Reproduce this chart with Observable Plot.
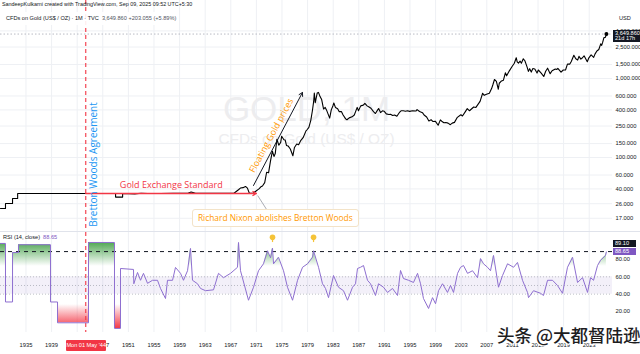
<!DOCTYPE html>
<html><head><meta charset="utf-8">
<script src="https://cdn.jsdelivr.net/npm/d3@7"></script>
<script src="https://cdn.jsdelivr.net/npm/@observablehq/plot@0.6"></script>
<style>
html,body{margin:0;padding:0;background:#fff;}
#root{position:relative;width:640px;height:354px;overflow:hidden;font-family:'Liberation Sans',Arial,sans-serif;color:#131722;}
#root svg{position:absolute;left:0;}
.abs{position:absolute;white-space:nowrap;}
</style></head><body><div id="root"></div>
<script>
// ---------- data ----------
const priceYears = [1931.02,1931.8,1931.8,1932.9,1932.9,1933.7,1933.7,1949.0,1949.0,1950.1,1950.1,1952.0,1953.0,1954.0,1956.0,1958.0,1960.3,1960.8,1961.5,1964.0,1967.5,1968.2,1968.5,1968.9,1969.3,1969.6,1969.9,1970.5,1970.9,1971.4,1971.7,1971.95,1972.3,1972.6,1972.9,1973.2,1973.5,1973.75,1973.95,1974.2,1974.5,1974.8,1974.95,1975.3,1975.5,1975.7,1975.95,1976.3,1976.7,1976.95,1977.3,1977.6,1977.95,1978.3,1978.75,1978.95,1979.2,1979.5,1979.75,1979.95,1980.05,1980.2,1980.5,1980.7,1980.95,1981.2,1981.5,1981.75,1981.95,1982.45,1982.7,1982.95,1983.1,1983.35,1983.7,1983.95,1984.3,1984.55,1984.95,1985.15,1985.5,1985.95,1986.3,1986.75,1986.95,1987.3,1987.7,1987.95,1988.3,1988.6,1988.9,1989.3,1989.6,1989.95,1990.1,1990.4,1990.7,1990.95,1991.3,1991.7,1991.95,1992.3,1992.6,1992.95,1993.4,1993.6,1993.95,1994.3,1994.6,1994.95,1995.4,1995.95,1996.1,1996.5,1996.95,1997.2,1997.6,1997.95,1998.3,1998.6,1998.95,1999.4,1999.75,1999.95,2000.3,2000.6,2000.95,2001.3,2001.6,2001.95,2002.4,2002.95,2003.2,2003.6,2003.95,2004.3,2004.95,2005.3,2005.95,2006.35,2006.6,2006.95,2007.4,2007.75,2007.95,2008.2,2008.5,2008.8,2008.95,2009.3,2009.6,2009.9,2010.1,2010.5,2010.95,2011.3,2011.6,2011.75,2011.95,2012.2,2012.4,2012.7,2012.95,2013.3,2013.5,2013.7,2013.95,2014.2,2014.5,2014.85,2015.05,2015.5,2015.9,2016.2,2016.5,2016.9,2017.2,2017.7,2017.95,2018.1,2018.6,2018.95,2019.3,2019.6,2019.95,2020.2,2020.6,2020.9,2021.2,2021.4,2021.7,2021.95,2022.2,2022.7,2022.95,2023.3,2023.7,2023.9,2024.2,2024.5,2024.8,2024.95,2025.1,2025.3,2025.5,2025.6,2025.69];
const priceValues = [22.6,22.6,26.2,26.2,30.3,30.3,35,35,31.5,31.5,35,34.6,35.3,35.0,35.0,35.1,35.2,36.5,35.3,35.1,35.2,39,41,41.5,43,41,35.2,35.5,37.4,40,42.5,43.6,48,65,64,90,120,103,112,170,143,155,186,168,166,142,140,128,105,134,148,145,165,178,217,226,240,295,390,512,653,494,653,666,590,540,410,430,400,315,400,448,490,430,415,380,380,345,308,300,317,327,345,430,390,450,460,484,450,435,420,380,360,400,416,370,390,385,356,350,353,340,345,333,376,390,390,385,390,383,390,387,404,382,369,345,325,290,300,285,288,256,299,288,275,277,272,260,272,278,322,347,335,375,415,390,435,430,513,650,612,632,650,745,833,970,920,730,870,930,950,1180,1080,1240,1420,1560,1830,1620,1565,1660,1560,1775,1675,1390,1230,1330,1205,1335,1320,1170,1280,1170,1060,1235,1350,1150,1250,1320,1300,1345,1200,1280,1280,1520,1517,1640,1970,1775,1710,1905,1760,1830,1935,1630,1825,1990,1850,2035,2230,2330,2740,2625,2860,3290,3300,3450,3649.86];

const rsiYears = [1931.02,1931.8,1931.8,1932.9,1932.9,1933.83,1933.83,1938.83,1938.83,1939.93,1939.93,1944.77,1944.77,1948.83,1948.83,1949.77,1949.77,1951.8,1951.85,1952.43,1952.9,1953.36,1953.99,1954.77,1955.55,1956.02,1956.8,1957.11,1957.9,1958.36,1959.15,1959.61,1960.24,1960.71,1961.02,1961.8,1962.27,1963.05,1964.3,1965.08,1965.86,1966.96,1968.05,1968.21,1968.52,1969.77,1970.55,1971.33,1972.11,1972.74,1973.21,1973.52,1973.68,1974.46,1975.24,1975.86,1976.65,1977.43,1978.21,1978.99,1979.77,1979.93,1980.71,1981.33,1981.8,1982.27,1983.05,1983.83,1984.61,1985.24,1986.02,1986.49,1986.8,1987.27,1987.74,1988.36,1988.83,1989.61,1990.08,1990.86,1991.49,1992.27,1993.05,1993.52,1993.99,1994.77,1995.55,1996.18,1996.65,1997.11,1997.9,1998.52,1998.99,1999.46,2000.08,2000.86,2001.33,2001.8,2002.43,2002.9,2003.36,2003.99,2004.77,2005.55,2006.02,2006.49,2007.11,2007.58,2008.05,2008.83,2009.46,2010.24,2011.18,2011.8,2012.58,2013.36,2013.52,2014.3,2015.4,2015.86,2016.49,2017.27,2018.05,2018.83,2019.61,2020.4,2021.18,2021.96,2022.74,2023.21,2023.68,2024.3,2024.77,2025.55,2025.69];
const rsiValues = [98.5,98.5,31,31,88,88,97,97,31,31,7,7,99.6,99.6,0.5,0.5,69.6,68.5,52,65,56,64,52.5,56,56,46.6,35,56,56,70.8,64,56,67,92.7,56,52,46.6,44,45,64,59,64,71,99.6,67,33,48,67,75,90,82,93,75,82.5,67,48,33,56,71,75,82.5,90,71,52,46.6,36,61.5,48,44,33,48,52,69.6,71,73,56,52,38.5,52,48,42,46.6,38.5,67.3,58,56,53.5,64,52,35,23.5,36,29,44,52,42,50,42,64,71,73,64,67,59,81,75,71,67,84.6,48,61.5,75,71,76.5,56,42,36,44,41,38.5,56,56,50,41,71,82.5,53.5,59,42,59,56,73,79,84.6,88.65];

const priceTicks = [17,26,40,60,100,150,250,400,600,1000,1500,2500,4000];
const rsiTicks = [20,40,60,80];
const yearTicks = [1935,1939,1943,1947,1951,1955,1959,1963,1967,1971,1975,1979,1983,1987,1991,1995,1999,2003,2007,2011,2015,2019,2023];
const yearLabels = [1935,1939,1947,1951,1955,1959,1963,1967,1971,1975,1979,1983,1987,1991,1995,1999,2003,2007,2011,2015,2019,2023]; // 1943 sits under the date box
const rsiBand = [40,50,60];
const rsiMarkLevel = 89.10;
const bulbYears = [1973.52,1979.93];
const eventYear = 1944.33;          // Mon 01 May '44
const eventLabel = "Mon 01 May '44";
const watermark = ["GOLD, 1M","CFDs on Gold (US$ / OZ)"];
const notes = [
  {text:"Gold Exchange Standard", t:1957.7, p:44.5, color:"#f23645", size:9, rotate:0},
  {text:"Bretton Woods Agreement", t:1945.65, p:81.5, color:"#2196f3", size:10, rotate:-90},
  {text:"Floating Gold prices", t:1973.35, p:190, color:"#ff9800", size:9, rotate:-61.6}
];
const arrows = [
  {t1:1944.33, p1:35, t2:1971.0, p2:35, color:"#f23645", w:1.3},
  {t1:1970.55, p1:44.2, t2:1978.2, p2:665, color:"#131722", w:1}
];
const nixonLink = [{t1:1971.2, p1:33, t2:1972.7, p2:21.3}];
const nixonNote = {text:"Richard Nixon abolishes Bretton Woods", t:1974.6, p:17.4};
const header1 = "SandeepKulkarni created with TradingView.com, Sep 09, 2025 09:52 UTC+5:30";
const header2 = "CFDs on Gold (US$ / OZ) · 1M · TVC";
const header2Vals = "3,649.860  +203.055 (+5.89%)";
const rsiTitle = "RSI (14, close)";
const lastRsi = 88.65;
const lastPrice = 3649.86;
const countdown = "21d 17h";
const cnMark = "头条 @大都督陆逊";

// ---------- build ----------
const price = priceYears.map((t,i)=>({t, p:priceValues[i]}));
const rsi = rsiYears.map((t,i)=>({t, v:rsiValues[i]}));
const X_DOMAIN = [1931.02, 2026.64];
const FONT = "'Liberation Sans', Arial, sans-serif";
const NFONT = "'Open Sans', sans-serif";
const fmtPrice = d3.format(",.3f");
const fmt2 = d3.format(".2f");
const GRID = "#eef0f4";
const AXFS = 5.8;

const main = Plot.plot({
  width:640, height:232, marginLeft:0, marginRight:28, marginTop:0, marginBottom:0,
  style:{background:"transparent", fontFamily:FONT, fontSize:AXFS+"px", color:"#131722", overflow:"visible"},
  x:{domain:X_DOMAIN, axis:null, label:null},
  y:{type:"log", domain:[11.23,9703], axis:null, label:null},
  marks:[
    Plot.ruleX(yearTicks, {stroke:GRID}),
    Plot.ruleY(priceTicks, {stroke:GRID}),
    Plot.text([watermark[0]], {frameAnchor:"middle", dy:-6.5, fontSize:35, fill:"#ededef", fontFamily:FONT}),
    Plot.text([watermark[1]], {frameAnchor:"middle", dy:23, fontSize:15.4, fill:"#ededef", fontFamily:FONT}),
    Plot.text(priceTicks, {y:d=>d, frameAnchor:"right", dx:3, textAnchor:"start", text:d=>fmtPrice(d), fill:"#131722", fontSize:AXFS}),
    Plot.ruleY([lastPrice], {stroke:"#b8bbc4", strokeDasharray:"1.5,2"}),
    Plot.ruleX([eventYear], {stroke:"#f23645", strokeOpacity:0.8, strokeWidth:1.4, strokeDasharray:"4,3"}),
    Plot.line(price, {x:"t", y:"p", stroke:"#000", strokeWidth:1.1}),
    Plot.arrow(arrows, {x1:"t1", y1:"p1", x2:"t2", y2:"p2", stroke:"color", strokeWidth:"w", headLength:6}),
    Plot.link(nixonLink, {x1:"t1", y1:"p1", x2:"t2", y2:"p2", stroke:"#9598a1", strokeWidth:0.8}),
    ...notes.map(n => Plot.text([n], {x:"t", y:"p", text:"text", fill:n.color, fontSize:n.size, rotate:n.rotate, fontFamily:NFONT})),
    Plot.dot([price[price.length-1]], {x:"t", y:"p", r:2, fill:"#000"})
  ]
});

function gradients(index, scales) {
  const y = scales.y;
  const ns = "http://www.w3.org/2000/svg";
  const defs = document.createElementNS(ns, "defs");
  defs.innerHTML =
    `<linearGradient id="gUp" gradientUnits="userSpaceOnUse" x1="0" x2="0" y1="${y(100)}" y2="${y(72)}">
       <stop offset="0" stop-color="#43a047" stop-opacity="0.95"/><stop offset="1" stop-color="#43a047" stop-opacity="0"/></linearGradient>
     <linearGradient id="gDn" gradientUnits="userSpaceOnUse" x1="0" x2="0" y1="${y(0)}" y2="${y(28)}">
       <stop offset="0" stop-color="#f23645" stop-opacity="1"/><stop offset="1" stop-color="#f23645" stop-opacity="0"/></linearGradient>`;
  return defs;
}

const rsiPlot = Plot.plot({
  width:640, height:122, marginLeft:0, marginRight:28, marginTop:0, marginBottom:22,
  style:{background:"transparent", fontFamily:FONT, fontSize:AXFS+"px", color:"#131722", overflow:"visible"},
  x:{domain:X_DOMAIN, ticks:yearLabels, tickFormat:d=>String(d), tickSize:0, tickPadding:10.5, label:null},
  y:{domain:[-4.2,111.1], axis:"right", ticks:rsiTicks, tickFormat:fmt2, tickSize:0, tickPadding:3, label:null},
  marks:[
    gradients,
    Plot.ruleX(yearTicks, {stroke:GRID}),
    Plot.areaY(X_DOMAIN, {x:d=>d, y1:rsiBand[0], y2:rsiBand[2], fill:"#7e57c2", fillOpacity:0.09}),
    Plot.ruleY(rsiBand, {stroke:"#9598a1", strokeOpacity:0.6, strokeDasharray:"1,2"}),
    Plot.areaY(rsi, {x:"t", y1:70, y2:"v", fill:"url(#gUp)"}),
    Plot.areaY(rsi, {x:"t", y1:30, y2:"v", fill:"url(#gDn)"}),
    Plot.ruleY([rsiMarkLevel], {stroke:"#131722", strokeDasharray:"4,4"}),
    Plot.ruleX([eventYear], {stroke:"#f23645", strokeOpacity:0.8, strokeWidth:1.4, strokeDasharray:"4,3"}),
    Plot.line(rsi, {x:"t", y:"v", stroke:"#8e6fd0", strokeWidth:1}),
    Plot.ruleX(bulbYears, {y1:99.5, y2:104, stroke:"#f5c338", strokeWidth:1.2}),
    Plot.dot(bulbYears, {x:d=>d, y:105.5, r:2.8, fill:"#f5c338"})
  ]
});

const root = document.getElementById("root");
main.style.top = "0px";
rsiPlot.style.top = "232px";
root.appendChild(main);
root.appendChild(rsiPlot);

const xm = v => main.scale("x").apply(v);
const ym = v => main.scale("y").apply(v);
const yr = v => 232 + rsiPlot.scale("y").apply(v);

function div(html, css) {
  const d = document.createElement("div");
  d.className = "abs";
  d.innerHTML = html;
  Object.assign(d.style, css);
  root.appendChild(d);
  return d;
}

// panel separator
div("", {left:"0px", top:"231px", width:"640px", height:"1px", background:"#e0e3eb"});
// headers
div(header1, {left:"2px", top:"1px", fontSize:"5.4px", lineHeight:"7px"});
div(`${header2}&nbsp;&nbsp;<span style="color:#50535e">${header2Vals}</span>`,
  {left:"3px", top:"12px", fontSize:"5.6px", lineHeight:"13px", padding:"0 3px", background:"rgba(255,255,255,0.9)"});
div("USD", {left:"619px", top:"15px", fontSize:"5.6px", lineHeight:"7px"});
// last price box
const py = ym(lastPrice);
div(`${fmtPrice(lastPrice)}<br>${countdown}`, {left:"613px", top:(py-3.2)+"px", width:"27px", background:"#131722", color:"#fff",
  fontSize:"5.6px", lineHeight:"5.6px", padding:"0.5px 0 0 2px"});
// RSI title
div(`${rsiTitle}&nbsp;&nbsp;<span style="color:#7e57c2">${fmt2(lastRsi)}</span>`, {left:"3px", top:"234px", fontSize:"5.6px", lineHeight:"7px"});
// RSI labels
const ry = yr(lastRsi);
div(fmt2(rsiMarkLevel), {left:"613px", top:(ry-11.5)+"px", width:"21px", background:"#131722", color:"#fff", fontSize:"5.6px", lineHeight:"7px", paddingLeft:"2px"});
div(fmt2(lastRsi), {left:"613px", top:(ry-3.5)+"px", width:"21px", background:"#7e57c2", color:"#fff", fontSize:"5.6px", lineHeight:"7px", paddingLeft:"2px"});
// event date label
div(eventLabel, {left:(xm(eventYear)-19)+"px", top:"340px", width:"40px", textAlign:"center", background:"#f23645", color:"#fff",
  fontSize:"5.6px", lineHeight:"11px", borderRadius:"1px"});
// Nixon note
div(nixonNote.text, {left:(xm(nixonNote.t)-87)+"px", top:(ym(nixonNote.p)-8)+"px", padding:"0 5px", height:"16px", lineHeight:"16px",
  background:"#fff", border:"1px solid #f3e3c8", borderRadius:"3px", color:"#ff9800", fontSize:"8.4px", fontFamily:NFONT});
// watermark
div(cnMark, {left:"497px", top:"325px", fontSize:"17.5px", lineHeight:"20px", fontFamily:"'Noto Sans CJK SC',sans-serif", fontWeight:"500",
  color:"#1d1d1f", textShadow:"1px 1px 0 #fff,-1px -1px 0 #fff,1px -1px 0 #fff,-1px 1px 0 #fff,0 1px 0 #fff,1px 0 0 #fff,0 -1px 0 #fff,-1px 0 0 #fff"});
</script></body></html>
